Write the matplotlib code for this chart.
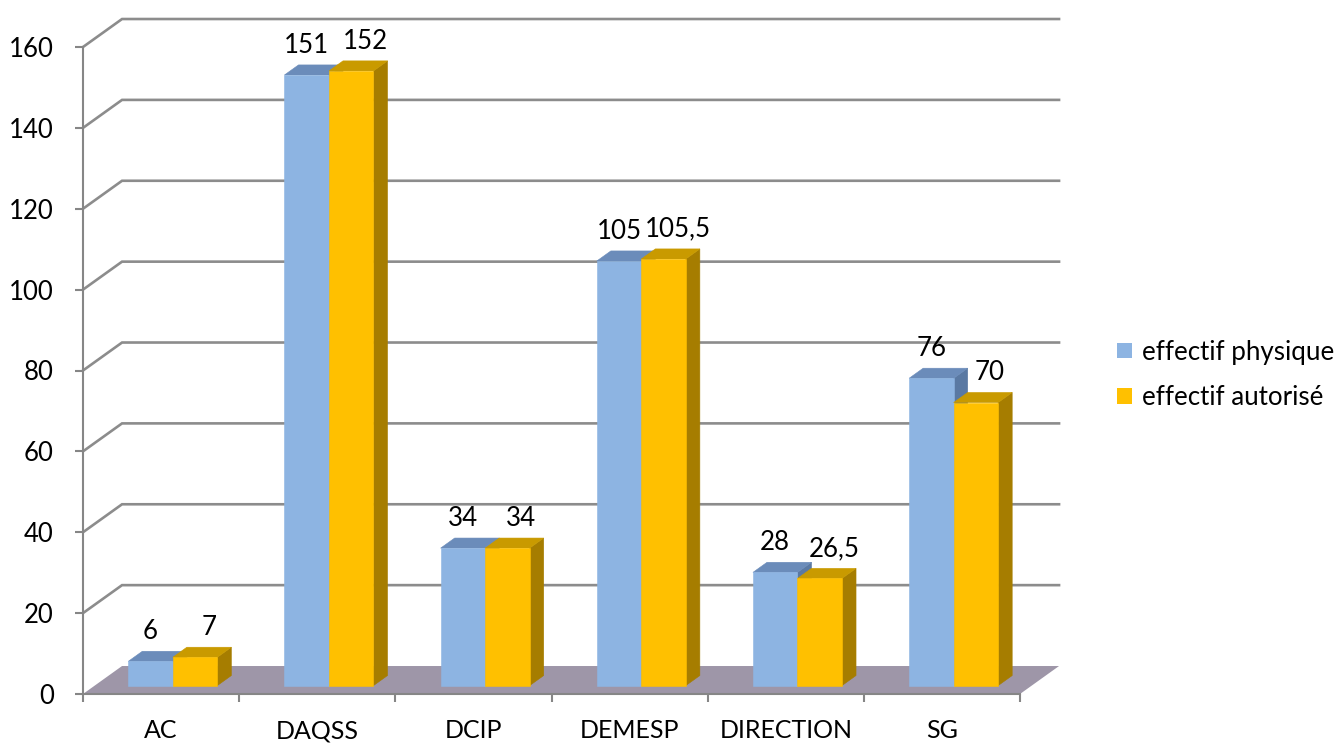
import matplotlib
matplotlib.use('Agg')
import matplotlib.pyplot as plt
from matplotlib.patches import Polygon, Patch

plt.rcParams['font.family'] = ['Lato', 'DejaVu Sans']

categories = ['AC', 'DAQSS', 'DCIP', 'DEMESP', 'DIRECTION', 'SG']
physique = [6, 151, 34, 105, 28, 76]
autorise = [7, 152, 34, 105.5, 26.5, 70]
series_names = ['effectif physique', 'effectif autorisé']
yticks = [0, 20, 40, 60, 80, 100, 120, 140, 160]

# colours: front, top, side
BLUE = ('#8DB4E2', '#6B8CBA', '#5A79A3')
GOLD = ('#FFC000', '#C99A00', '#A67D00')
FLOOR = '#9E96A8'
GRID = '#8C8C8C'

# pseudo-3D geometry (data units)
DX, DY = 0.25, 6.92      # depth of the back wall
F1, F2 = 0.30, 0.66      # bar front / back depth fractions
BW = 0.285               # bar width

fig = plt.figure(figsize=(13.4, 7.43), dpi=100)
ax = fig.add_axes([83 / 1340, 49 / 743, 937 / 1340, 647 / 743])
ax.set_xlim(0, len(categories))
ax.set_ylim(0, 160)

n = len(categories)
# floor
ax.add_patch(Polygon([(0, 0), (DX, DY), (n + DX, DY), (n, 0)], closed=True,
                     facecolor=FLOOR, edgecolor='none', zorder=1, clip_on=False))
# grid lines on left and back walls
for v in yticks[1:]:
    ax.plot([0, DX, n + DX], [v, v + DY, v + DY], color=GRID, lw=1.9,
            solid_joinstyle='miter', zorder=1.5, clip_on=False)


def fmt(v):
    return str(int(v)) if float(v).is_integer() else str(v).replace('.', ',')


def box(x0, h, cols):
    xf = x0 + F1 * DX
    yb = F1 * DY
    ddx = (F2 - F1) * DX
    ddy = (F2 - F1) * DY
    front = [(xf, yb), (xf + BW, yb), (xf + BW, yb + h), (xf, yb + h)]
    top = [(xf, yb + h), (xf + BW, yb + h), (xf + BW + ddx, yb + h + ddy), (xf + ddx, yb + h + ddy)]
    side = [(xf + BW, yb), (xf + BW + ddx, yb + ddy), (xf + BW + ddx, yb + h + ddy), (xf + BW, yb + h)]
    for poly, c in ((side, cols[2]), (top, cols[1]), (front, cols[0])):
        ax.add_patch(Polygon(poly, closed=True, facecolor=c, edgecolor=c,
                             lw=0.4, zorder=3, clip_on=False))
    return xf


for i in range(n):
    for vals, cols, x0, lx in ((physique, BLUE, i + 0.5 - BW, 0.0),
                               (autorise, GOLD, i + 0.5, 0.09)):
        v = vals[i]
        xf = box(x0, v, cols)
        ax.text(xf + BW / 2 + lx, v + F1 * DY + 7.4, fmt(v), ha='center', va='center',
                fontsize=18.6, color='black', zorder=5, clip_on=False)

# axes styling
for s in ('top', 'right'):
    ax.spines[s].set_visible(False)
for s in ('left', 'bottom'):
    ax.spines[s].set_color('#868686')
    ax.spines[s].set_linewidth(1.5)
    ax.spines[s].set_zorder(2)

ax.set_yticks(yticks)
ax.set_yticklabels([str(t) for t in yticks])
ax.tick_params(axis='y', which='major', direction='out', length=6, width=1.5,
               color='#868686', labelsize=18.5, pad=15)

ax.set_xticks(range(n + 1))
ax.set_xticklabels([''] * (n + 1))
ax.set_xticks([i + 0.5 for i in range(n)], minor=True)
ax.set_xticklabels(categories, minor=True)
ax.tick_params(axis='x', which='major', direction='out', length=6, width=1.5,
               color='#868686')
ax.tick_params(axis='x', which='minor', length=0, labelsize=18, pad=18)

handles = [Patch(facecolor=BLUE[0], edgecolor='none'), Patch(facecolor=GOLD[0], edgecolor='none')]
fig.legend(handles, series_names, loc='center left',
           bbox_to_anchor=(1117 / 1340, 1 - 375 / 743), bbox_transform=fig.transFigure,
           frameon=False, fontsize=18.6, handlelength=0.57, handleheight=0.57,
           handletextpad=0.4, labelspacing=0.8, borderpad=0, borderaxespad=0)

fig.savefig('out.png', dpi=100, facecolor='white')
